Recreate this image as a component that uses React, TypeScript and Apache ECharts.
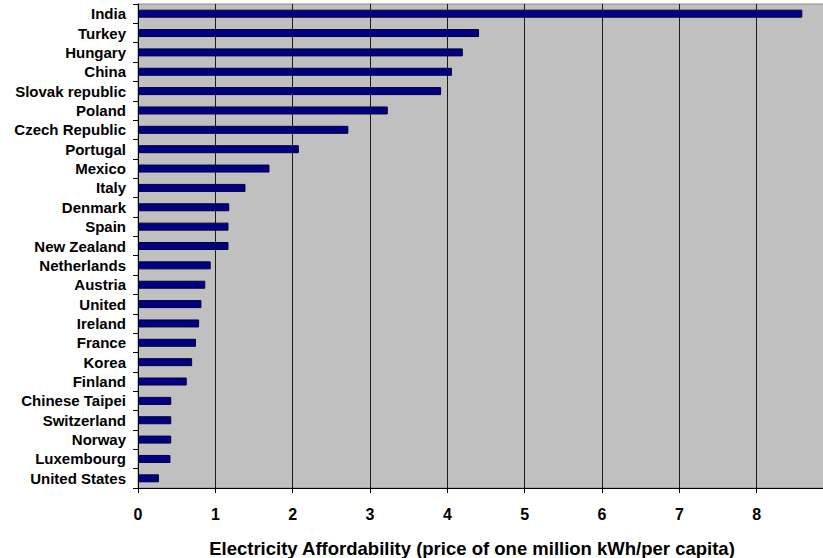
import React, { useEffect, useRef } from "react";
import * as echarts from "echarts";

// Countries, top to bottom
const countries = [
  "India",
  "Turkey",
  "Hungary",
  "China",
  "Slovak republic",
  "Poland",
  "Czech Republic",
  "Portugal",
  "Mexico",
  "Italy",
  "Denmark",
  "Spain",
  "New Zealand",
  "Netherlands",
  "Austria",
  "United",
  "Ireland",
  "France",
  "Korea",
  "Finland",
  "Chinese Taipei",
  "Switzerland",
  "Norway",
  "Luxembourg",
  "United States",
];

// Price of one million kWh per capita
const affordability = [
  8.59, 4.41, 4.2, 4.06, 3.92, 3.23, 2.72, 2.08, 1.7, 1.39, 1.18, 1.17, 1.17,
  0.94, 0.87, 0.82, 0.79, 0.75, 0.7, 0.63, 0.43, 0.43, 0.43, 0.42, 0.27,
];

const xTicks = { min: 0, max: 9, interval: 1 };

const axisTitle = "Electricity Affordability (price of one million kWh/per capita)";

const FONT = "'Liberation Sans', Arial, sans-serif";

export default function App() {
  const ref = useRef<HTMLDivElement>(null);

  useEffect(() => {
    if (!ref.current) return;
    const chart = echarts.init(ref.current, null, { renderer: "svg" });
    chart.setOption({
      animation: false,
      backgroundColor: "#ffffff",
      grid: {
        left: 138,
        top: 4,
        bottom: 70,
        right: 0,
        show: true,
        backgroundColor: "#c0c0c0",
        borderColor: "#8a8a8a",
        borderWidth: 1,
      },
      xAxis: {
        type: "value",
        min: xTicks.min,
        max: xTicks.max,
        interval: xTicks.interval,
        axisLine: { show: true, lineStyle: { color: "#000", width: 1 } },
        axisTick: { show: true, length: 5, lineStyle: { color: "#000" } },
        axisLabel: {
          color: "#000",
          fontFamily: FONT,
          fontSize: 16,
          fontWeight: "bold",
          margin: 18,
          showMaxLabel: false,
        },
        splitLine: { show: true, lineStyle: { color: "#1a1a1a", width: 1 } },
      },
      yAxis: {
        type: "category",
        inverse: true,
        data: countries,
        axisLine: { show: true, lineStyle: { color: "#000", width: 1 } },
        axisTick: {
          show: true,
          interval: 0,
          length: 5,
          lineStyle: { color: "#000" },
        },
        axisLabel: {
          interval: 0,
          color: "#000",
          fontFamily: FONT,
          fontSize: 15,
          fontWeight: "bold",
          margin: 12,
        },
        splitLine: { show: false },
      },
      series: [
        {
          type: "bar",
          data: affordability,
          barWidth: 8,
          itemStyle: {
            color: "#000080",
            borderColor: "#00003a",
            borderWidth: 1,
          },
        },
      ],
      graphic: [
        {
          type: "text",
          x: 472,
          y: 548,
          style: {
            text: axisTitle,
            fill: "#000",
            font: `bold 18.5px ${FONT}`,
            textAlign: "center",
            textVerticalAlign: "middle",
          },
        },
      ],
    });
    return () => chart.dispose();
  }, []);

  // The chart is slightly wider than the page so the last gridline falls past the right edge
  return (
    <div
      ref={ref}
      style={{ position: "fixed", left: 0, top: 0, width: 834, height: 558 }}
    />
  );
}
